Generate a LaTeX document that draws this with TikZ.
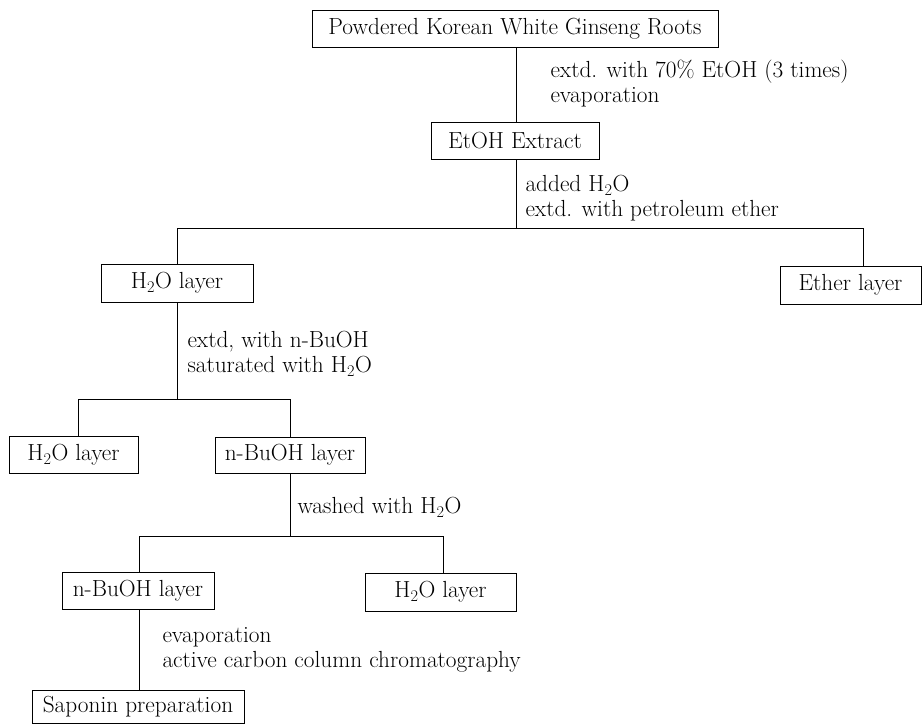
\documentclass[tikz,border=0pt]{standalone}
\usepackage{fontspec}
\usepackage{xcolor}

\begin{document}
\begin{tikzpicture}[x=1pt,y=-1pt]
        \tikzset{every node/.style={font=\fontsize{23.3}{25}\selectfont},
            layerbox/.style={draw,line width=1pt,inner sep=0pt,minimum height=37pt},
            steptext/.style={anchor=west,align=left,inner sep=0pt},
            every path/.style={line width=1pt}}
        \useasboundingbox (0,0) rectangle (923,724);
        % boxes
        \node[layerbox,minimum width=406pt] (roots) at (515,28.5) {Powdered Korean White Ginseng Roots};
        \node[layerbox,minimum width=168pt] (etoh) at (515,140.5) {EtOH Extract};
        \node[layerbox,minimum width=152pt,minimum height=38pt] (water1) at (177,283) {H\textsubscript{2}O layer};
        \node[layerbox,minimum width=141pt,minimum height=38pt] (ether) at (850.5,285) {Ether layer};
        \node[layerbox,minimum width=129pt] (water2) at (73.5,454.5) {H\textsubscript{2}O layer};
        \node[layerbox,minimum width=150pt,minimum height=36pt] (butanol1) at (290,455) {n-BuOH layer};
        \node[layerbox,minimum width=152pt] (butanol2) at (138,590.5) {n-BuOH layer};
        \node[layerbox,minimum width=151pt,minimum height=38pt] (water3) at (440.5,592) {H\textsubscript{2}O layer};
        \node[layerbox,minimum width=212pt,minimum height=33pt] (saponin) at (138,706.5) {Saponin preparation};
        % split points
        \coordinate (split1) at (516,228);
        \coordinate (left1) at (177,228);
        \coordinate (right1) at (863,228);
        \coordinate (split2) at (177,399);
        \coordinate (left2) at (78,399);
        \coordinate (right2) at (290,399);
        \coordinate (split3) at (290,536);
        \coordinate (left3) at (139,536);
        \coordinate (right3) at (443,536);
        % connectors
        \draw (roots.south -| split1) -- (etoh.north -| split1);
        \draw (etoh.south -| split1) -- (split1);
        \draw (water1.north -| left1) -- (left1) -- (right1) -- (ether.north -| right1);
        \draw (water1.south -| split2) -- (split2);
        \draw (water2.north -| left2) -- (left2) -- (right2) -- (butanol1.north -| right2);
        \draw (butanol1.south -| split3) -- (split3);
        \draw (butanol2.north -| left3) -- (left3) -- (right3) -- (water3.north -| right3);
        \draw (butanol2.south -| left3) -- (saponin.north -| left3);
        % step labels
        \node[steptext] (extract) at (550,84) {extd. with 70\% EtOH (3 times)\\evaporation};
        \node[steptext] (partition1) at (525,198) {added H\textsubscript{2}O\\extd. with petroleum ether};
        \node[steptext] (partition2) at (187,354) {extd, with n-BuOH\\saturated with H\textsubscript{2}O};
        \node[steptext] (wash) at (297,507) {washed with H\textsubscript{2}O};
        \node[steptext] (column) at (162,650) {evaporation\\active carbon column chromatography};
    \end{tikzpicture}
\end{document}
